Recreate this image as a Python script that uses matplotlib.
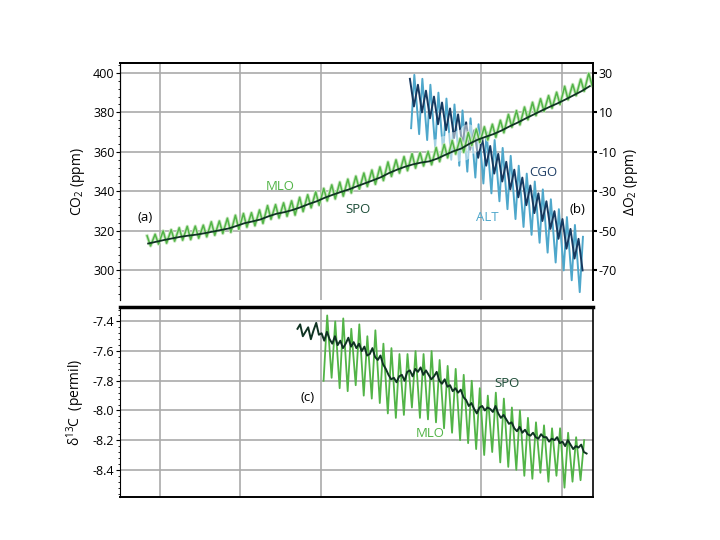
"""
CO2, O2 and d13C records (MLO, SPO, ALT, CGO) - three panel figure
"""
import numpy as np
import matplotlib
matplotlib.use("Agg")
import matplotlib.pyplot as plt
import matplotlib.patheffects as pe

plt.rcParams['font.family'] = ['Open Sans', 'DejaVu Sans']
plt.rcParams['mathtext.fontset'] = 'custom'
plt.rcParams['mathtext.rm'] = 'Open Sans'
plt.rcParams['axes.unicode_minus'] = False

# ---- data ----
# CO2 at Mauna Loa: yearly seasonal maximum / minimum, 1958-2013
mlo_years = list(range(1958, 2014))
mlo_co2_peak = [317.5, 318.3, 320.0, 320.6, 321.6, 322.3, 322.4, 322.9, 324.6, 325.0,
                326.4, 327.9, 328.8, 329.2, 330.6, 332.8, 333.3, 334.2, 335.2, 337.0,
                338.3, 339.8, 341.5, 343.3, 344.7, 346.2, 347.7, 349.3, 350.8, 352.4,
                354.9, 356.0, 357.6, 359.1, 359.7, 360.2, 362.2, 363.8, 365.8, 366.9,
                369.8, 371.6, 372.7, 374.0, 376.0, 379.0, 380.9, 382.7, 385.1, 386.9,
                388.5, 390.2, 393.2, 394.2, 396.8, 399.8]
mlo_co2_trough = [312.4, 313.3, 313.8, 314.8, 315.3, 315.6, 316.3, 317.0, 317.8, 318.7,
                  319.3, 320.8, 321.9, 322.6, 323.8, 325.9, 326.5, 327.4, 328.0, 329.8,
                  331.7, 333.0, 335.2, 336.2, 337.6, 339.2, 341.1, 342.5, 343.6, 345.5,
                  347.6, 349.3, 350.5, 351.8, 352.9, 353.5, 355.1, 357.0, 358.9, 359.8,
                  363.2, 364.7, 366.0, 367.4, 369.7, 372.5, 373.7, 376.3, 378.4, 380.5,
                  382.1, 384.0, 386.4, 388.5, 390.7, 393.5]
# CO2 at South Pole, annual
spo_co2 = [313.6, 314.5, 315.4, 316.2, 317.0, 317.6, 318.1, 318.8, 319.6, 320.4,
           321.2, 322.5, 323.9, 324.8, 325.8, 327.4, 328.7, 329.5, 330.6, 332.0,
           333.6, 335.0, 336.8, 338.3, 339.7, 341.0, 342.6, 344.1, 345.6, 347.2,
           349.3, 351.0, 352.5, 353.7, 354.6, 355.2, 356.6, 358.5, 360.3, 361.7,
           364.1, 366.1, 367.6, 369.0, 370.8, 372.9, 374.8, 376.9, 378.9, 380.9,
           382.8, 384.6, 386.6, 388.7, 390.8, 393.3]

# delta O2 (ppm) at Alert and Cape Grim, 1991-2012, seasonal max / min
o2_years = list(range(1991, 2013))
alt_o2_peak = [29, 27, 24, 20, 17, 14, 11, 7, 4, 0, -4, -8, -12, -17, -21, -25,
               -29, -34, -39, -43, -47, -53]
alt_o2_trough = [2, -1, -4, -8, -11, -14, -17, -20, -23, -26, -31, -35, -39, -44,
                 -48, -52, -56, -61, -66, -70, -75, -81]
cgo_o2_peak = [27, 24, 21, 18, 15, 12, 9, 5, 1, -3, -7, -11, -15, -19, -23, -27,
               -31, -35, -40, -44, -49, -54]
cgo_o2_trough = [13, 10, 7, 4, 1, -3, -6, -9, -13, -17, -21, -25, -29, -33, -37,
                 -41, -45, -49, -54, -59, -64, -70]

# d13C (permil) at South Pole, three values per year from 1977
spo_d13c_start = 1977.1
spo_d13c = [-7.45, -7.42, -7.50, -7.47, -7.44, -7.52, -7.46, -7.41, -7.49,
            -7.48, -7.53, -7.47, -7.52, -7.55, -7.50, -7.56, -7.53, -7.58,
            -7.55, -7.51, -7.57, -7.54, -7.58, -7.55, -7.60, -7.57, -7.63,
            -7.62, -7.58, -7.64, -7.66, -7.63, -7.69, -7.72, -7.76, -7.79,
            -7.78, -7.81, -7.77, -7.76, -7.80, -7.74, -7.73, -7.77, -7.72,
            -7.74, -7.71, -7.76, -7.73, -7.76, -7.79, -7.77, -7.74, -7.80,
            -7.82, -7.79, -7.84, -7.83, -7.87, -7.85, -7.88, -7.86, -7.91,
            -7.93, -7.97, -7.95, -7.99, -8.02, -7.98, -7.97, -8.00, -7.98,
            -7.99, -8.01, -7.97, -8.02, -8.05, -8.03, -8.06, -8.09, -8.08,
            -8.12, -8.14, -8.11, -8.15, -8.13, -8.16, -8.17, -8.15, -8.18,
            -8.19, -8.16, -8.18, -8.18, -8.21, -8.19, -8.20, -8.18, -8.22,
            -8.21, -8.24, -8.20, -8.23, -8.26, -8.24, -8.25, -8.23, -8.28,
            -8.29]
# d13C at Mauna Loa, 1980-2012, seasonal max / min
d13c_years = list(range(1980, 2013))
mlo_d13c_peak = [-7.36, -7.40, -7.38, -7.45, -7.42, -7.50, -7.46, -7.55, -7.58, -7.62,
                 -7.62, -7.60, -7.62, -7.60, -7.66, -7.70, -7.72, -7.76, -7.80, -7.85,
                 -7.90, -7.88, -7.92, -7.98, -8.00, -8.05, -8.08, -8.10, -8.12, -8.12,
                 -8.15, -8.18, -8.20]
mlo_d13c_trough = [-7.80, -7.78, -7.85, -7.87, -7.83, -7.90, -7.92, -7.95, -8.02, -8.05,
                   -8.03, -7.98, -8.05, -8.06, -8.08, -8.12, -8.15, -8.20, -8.22, -8.26,
                   -8.30, -8.28, -8.35, -8.38, -8.40, -8.44, -8.46, -8.42, -8.48, -8.44,
                   -8.52, -8.48, -8.47]

grid_years = [1960, 1970, 1980, 2000, 2010]


def zigzag(years, first, second, t1, t2):
    """Interleave two seasonal extremes into one monthly-like series."""
    yrs = np.asarray(years, dtype=float)
    t = np.column_stack([yrs + t1, yrs + t2]).ravel()
    v = np.column_stack([first, second]).ravel()
    return t, v


GREEN = '#52b447'
DARK = '#0f3322'
NAVY = '#17395f'
LBLUE = '#4ea7cb'
GRID = '#aaaaaa'

fig = plt.figure(figsize=(7.2, 5.4), dpi=100)
ax1 = fig.add_axes([0.1667, 0.4444, 0.6569, 0.4389])
ax3 = fig.add_axes([0.1667, 0.0796, 0.6569, 0.3519])
ax2 = ax1.twinx()

xlim = (1955.0, 2013.9)

# ---- top panel: CO2 and O2 ----
t_alt, v_alt = zigzag(o2_years, alt_o2_trough, alt_o2_peak, 0.25, 0.65)
t_cgo, v_cgo = zigzag(o2_years, cgo_o2_peak, cgo_o2_trough, 0.1, 0.6)
ax1.plot(t_alt, np.array(v_alt) + 370, color=LBLUE, lw=1.4, zorder=2)
ax1.plot(t_cgo, np.array(v_cgo) + 370, color=NAVY, lw=1.4, zorder=2.1)

t_mlo, v_mlo = zigzag(mlo_years, mlo_co2_peak, mlo_co2_trough, 0.37, 0.8)
# pale wash where the CO2 curve crosses the O2 curves
fade = (t_mlo > 1994.0) & (t_mlo < 1999.0)
ax1.plot(t_mlo[fade], v_mlo[fade], color='white', lw=12, alpha=0.5,
         solid_capstyle='round', zorder=2.5)
ax1.plot(t_mlo, v_mlo, color=GREEN, lw=1.1, zorder=3,
         path_effects=[pe.Stroke(linewidth=2.4, foreground='#c6e6bd'), pe.Normal()])
ax1.plot(np.array(mlo_years) + 0.5, spo_co2, color=DARK, lw=1.3, zorder=3.2)

ax1.set_xlim(*xlim)
ax1.set_ylim(285, 405)
ax2.set_ylim(-85, 35)
ax1.set_yticks([300, 320, 340, 360, 380, 400])
ax1.set_yticks(np.arange(288, 405, 4), minor=True)
ax2.set_yticks([30, 10, -10, -30, -50, -70])
ax1.set_xticks(grid_years)
ax1.tick_params(axis='x', length=0, labelbottom=False)
ax1.tick_params(axis='y', labelsize=9, length=3, width=0.8, pad=1)
ax1.tick_params(axis='y', which='minor', length=1.5, width=0.6)
ax2.tick_params(axis='y', labelsize=9, length=3, width=1.5, pad=1)
ax1.grid(True, color=GRID, lw=1.2)
ax1.set_axisbelow(True)
for a in (ax1, ax2):
    a.spines['bottom'].set_visible(False)
    a.spines['top'].set_linewidth(1.4)
    a.spines['left'].set_linewidth(0.8)
    a.spines['right'].set_linewidth(1.2)

ax1.set_ylabel(r'CO$_\mathregular{2}$ (ppm)', fontsize=10, labelpad=4)
ax2.set_ylabel(r'ΔO$_\mathregular{2}$ (ppm)', fontsize=10, rotation=90, labelpad=4)

ax1.text(1974.9, 342.6, 'MLO', color=GREEN, fontsize=9.5, ha='center', va='center')
ax1.text(1984.6, 331.0, 'SPO', color='#1d4d38', fontsize=9.5, ha='center', va='center')
ax1.text(2007.7, 349.7, 'CGO', color='#1f3f66', fontsize=9.5, ha='center', va='center')
ax1.text(2000.7, 327.0, 'ALT', color=LBLUE, fontsize=9.5, ha='center', va='center')
ax1.text(1958.1, 327.0, '(a)', fontsize=9.5, ha='center', va='center')
ax1.text(2012.0, 331.0, '(b)', fontsize=9.5, ha='center', va='center')

# ---- bottom panel: d13C ----
t_d13, v_d13 = zigzag(d13c_years, mlo_d13c_trough, mlo_d13c_peak, 0.35, 0.8)
ax3.plot(t_d13, v_d13, color=GREEN, lw=1.3, zorder=2)
t_spo = spo_d13c_start + np.arange(len(spo_d13c)) / 3.0
ax3.plot(t_spo, spo_d13c, color=DARK, lw=1.4, zorder=3)

ax3.set_xlim(*xlim)
ax3.set_ylim(-8.583, -7.303)
ax3.set_yticks([-7.4, -7.6, -7.8, -8.0, -8.2, -8.4])
ax3.set_yticks(np.arange(-8.56, -7.30, 0.04), minor=True)
ax3.set_yticklabels(['-7.4', '-7.6', '-7.8', '-8.0', '-8.2', '-8.4'])
ax3.set_xticks(grid_years)
ax3.tick_params(axis='x', length=0, labelbottom=False)
ax3.tick_params(axis='y', labelsize=9, length=3, width=0.8, pad=1)
ax3.tick_params(axis='y', which='minor', length=1.5, width=0.6)
ax3.grid(True, color=GRID, lw=1.2)
ax3.set_axisbelow(True)
ax3.spines['top'].set_linewidth(2.5)
ax3.spines['bottom'].set_linewidth(1.4)
ax3.spines['left'].set_linewidth(0.8)
ax3.spines['right'].set_linewidth(1.2)
ax3.set_ylabel('δ$^\\mathregular{13}$C  (permil)', fontsize=10, labelpad=4)

ax3.text(2003.2, -7.82, 'SPO', color='#1d4d38', fontsize=9.5, ha='center', va='center')
ax3.text(1993.6, -8.156, 'MLO', color=GREEN, fontsize=9.5, ha='center', va='center')
ax3.text(1978.3, -7.91, '(c)', fontsize=9.5, ha='center', va='center')

fig.savefig('out.png', dpi=100)
